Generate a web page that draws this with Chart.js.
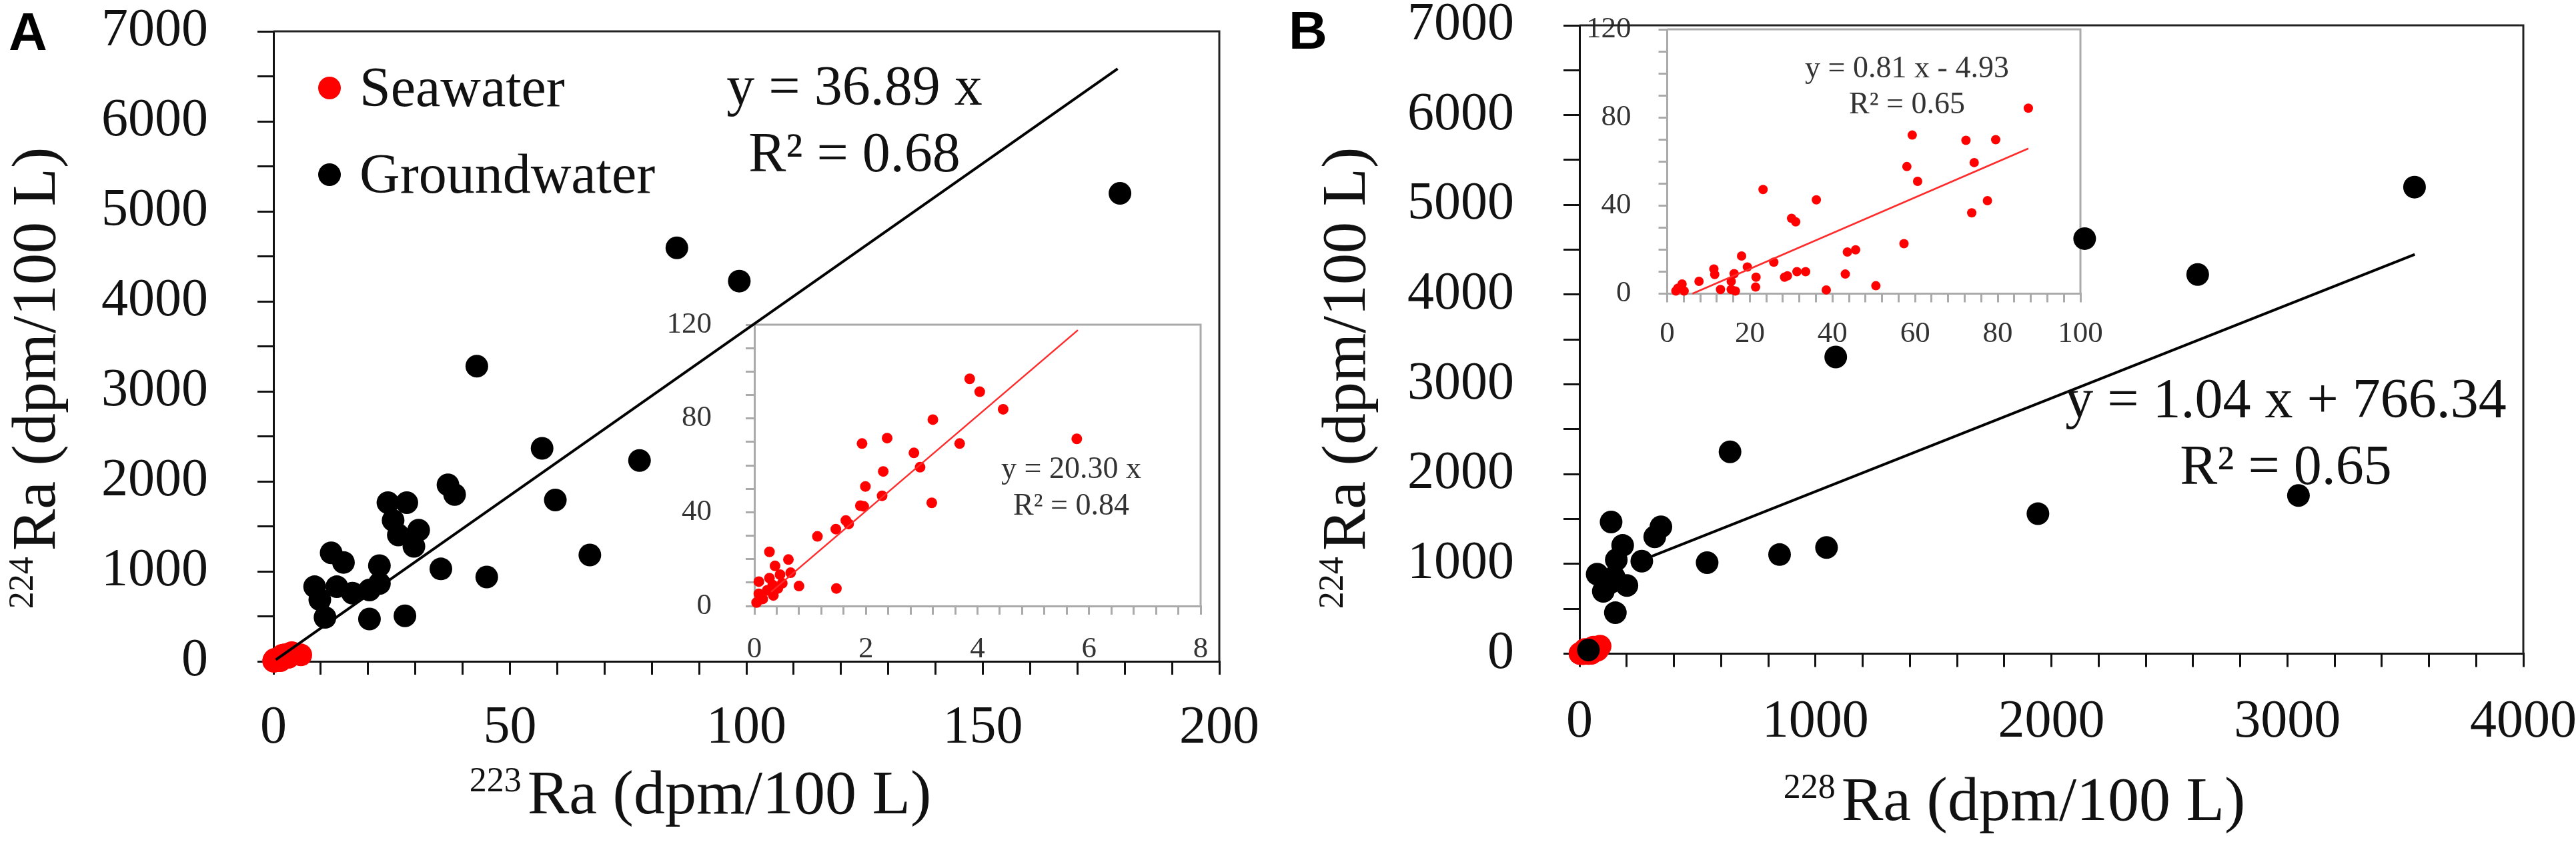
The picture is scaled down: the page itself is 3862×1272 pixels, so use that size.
<!DOCTYPE html>
<html>
<head>
<meta charset="utf-8">
<title>Ra isotopes</title>
<script src="https://cdn.jsdelivr.net/npm/chart.js@4.4.1/dist/chart.umd.min.js"></script>
<style>
  html, body { margin: 0; padding: 0; background: #fff; }
  #page { position: relative; width: 3862px; height: 1272px; overflow: hidden; background: #fff; }
  canvas { position: absolute; }
</style>
</head>
<body>
<div id="page">
  <canvas id="insetA" width="830" height="600" style="left:1000px;top:420px"></canvas>
  <canvas id="insetB" width="800" height="540" style="left:2360px;top:0px"></canvas>
  <canvas id="mainA" width="1920" height="1272" style="left:0px;top:0px"></canvas>
  <canvas id="mainB" width="1942" height="1272" style="left:1920px;top:0px"></canvas>
</div>
<script>
const SERIF = "'Liberation Serif', 'Times New Roman', serif";
const SANS = "'Liberation Sans', Arial, sans-serif";
Chart.defaults.font.family = SERIF;
Chart.defaults.color = '#111';

// --- panel A: 223Ra vs 224Ra (dpm/100 L) ---
const aGroundX = [85.3, 98.5, 43.0, 56.8, 77.4, 36.9, 38.3, 59.6, 24.2, 28.2, 25.3, 30.7, 26.4, 29.7, 12.2,
                  14.8, 22.4, 35.4, 66.9, 45.1, 8.7, 13.4, 16.7, 20.3, 22.4, 9.8, 10.9, 20.3, 27.8, 179.0];
const aGroundY = [4594, 4225, 3280, 2367, 2231, 1961, 1853, 1792, 1763, 1763, 1566, 1458, 1404, 1278, 1206,
                  1099, 1063, 1027, 1182, 937, 829, 829, 758, 793, 865, 686, 488, 470, 506, 5200];
const aSeaX = [3.86, 4.04, 4.46, 3.20, 5.78, 2.38, 1.93, 3.68, 2.86, 2.97, 2.31, 1.99, 2.29, 1.90, 1.96, 3.18,
               1.64, 1.69, 1.46, 1.13, 0.27, 0.61, 0.37, 0.65, 0.46, 0.08, 0.27, 0.33, 0.50, 0.42, 0.80, 1.47,
               0.34, 0.08, 0.04, 0.15, 0.23];
const aSeaY = [96.9, 91.4, 83.9, 79.5, 71.3, 71.6, 69.3, 69.3, 65.3, 59.2, 57.4, 51.0, 47.0, 42.8, 42.5, 44.0,
               36.5, 35.0, 32.8, 29.7, 23.1, 19.8, 17.1, 14.2, 13.4, 10.4, 11.9, 8.9, 9.7, 7.5, 8.5, 7.5,
               4.5, 5.2, 1.5, 3.0, 6.7];
const aFitX = [0.5, 178.5];
const aFitY = [18, 6585];
const aSeaFitX = [0.3, 5.8];
const aSeaFitY = [6, 117.7];
const aEquation = ['y = 36.89 x', 'R\u00b2 = 0.68'];
const aSeaEquation = ['y = 20.30 x', 'R\u00b2 = 0.84'];

// --- panel B: 228Ra vs 224Ra (dpm/100 L) ---
const bGroundX = [38, 75, 101, 130, 134, 147, 152, 156, 183, 201, 264, 319, 345, 541, 638, 848, 1047, 1086,
                  1943, 2141, 2620, 3047, 3539];
const bGroundY = [41, 886, 695, 790, 1467, 854, 456, 1046, 1206, 759, 1030, 1302, 1413, 1014, 2249, 1104, 1183, 3305,
                  1559, 4624, 4224, 1762, 5198];
const bSeaX = [2.1, 2.6, 3.6, 4.1, 7.7, 11.3, 11.5, 12.9, 15.5, 16.5, 15.5, 16.2, 18.0, 19.4, 21.5, 21.4, 23.2,
               25.8, 28.4, 29.1, 31.4, 33.5, 30.1, 31.1, 36.1, 38.5, 43.1, 43.6, 45.6, 50.5, 57.3, 58.0, 59.3,
               60.6, 72.3, 74.3, 73.7, 77.5, 79.5, 87.4];
const bSeaY = [1.2, 2.5, 4.4, 1.2, 5.6, 11.2, 8.7, 1.9, 1.9, 1.2, 5.6, 9.1, 17.1, 12.1, 7.5, 3.0, 47.3,
               14.3, 7.5, 8.1, 10.0, 10.0, 34.2, 32.6, 42.6, 1.7, 8.9, 18.9, 19.9, 3.6, 22.7, 57.7, 72.0,
               51.0, 69.6, 59.5, 36.7, 42.2, 69.9, 84.2];
const bFitX = [305, 3540];
const bFitY = [1083, 4448];
const bSeaFitX = [6.1, 87.4];
const bSeaFitY = [0, 65.9];
const bEquation = ['y = 1.04 x + 766.34', 'R\u00b2 = 0.65'];
const bSeaEquation = ['y = 0.81 x - 4.93', 'R\u00b2 = 0.65'];

// --- series names and tick labels ---
const seriesNames = ['Seawater', 'Groundwater'];
const seriesColors = ['#ff0000', '#000000'];
const mainYLabels = [0, 1000, 2000, 3000, 4000, 5000, 6000, 7000];
const aXLabels = [0, 50, 100, 150, 200];
const bXLabels = [0, 1000, 2000, 3000, 4000];
const insetYLabels = [0, 40, 80, 120];
const aInsetXLabels = [0, 2, 4, 6, 8];
const bInsetXLabels = [0, 20, 40, 60, 80, 100];

const pts = (xs, ys) => xs.map((x, i) => ({ x: x, y: ys[i] }));

function dots(label, xs, ys, color, r, order) {
    return { label: label, data: pts(xs, ys), backgroundColor: color, pointBackgroundColor: color,
             pointRadius: r, pointBorderWidth: 0, showLine: false, clip: false, order: order };
}

function fitLine(xs, ys, color, w) {
    return { data: pts(xs, ys), borderColor: color, borderWidth: w, pointRadius: 0,
             showLine: true, clip: false, order: 0 };
}

// axis with tick marks only, labels on a subset
function axis(o) {
    const horiz = o.pos === 'bottom';
    return {
        type: 'linear', position: o.pos, min: o.min, max: o.max,
        border: { display: true, color: o.color, width: o.lw },
        grid: { drawOnChartArea: false, drawTicks: true, tickLength: o.tl, color: o.color, lineWidth: o.lw },
        ticks: {
            stepSize: o.step, autoSkip: false, maxRotation: 0, padding: o.pad,
            color: o.text, font: { size: o.fs },
            callback: (v) => o.labels.includes(v) ? String(v) : ''
        },
        afterFit: (s) => {
            if (horiz) { s.height = o.size; s.paddingLeft = 0; s.paddingRight = 0; }
            else { s.width = o.size; s.paddingTop = 0; s.paddingBottom = 0; }
        }
    };
}

function supTitle(ctx, sup, text, cx, cy, rotate) {
    const size = 94, supSize = 52, gap = 9, raise = 33;
    ctx.save();
    ctx.fillStyle = '#111';
    ctx.textBaseline = 'alphabetic';
    ctx.textAlign = 'left';
    ctx.font = size + 'px ' + SERIF;
    const wMain = ctx.measureText(text).width;
    ctx.font = supSize + 'px ' + SERIF;
    const wSup = ctx.measureText(sup).width;
    const total = wSup + gap + wMain;
    ctx.translate(cx, cy);
    if (rotate) ctx.rotate(-Math.PI / 2);
    ctx.fillText(sup, -total / 2, -raise);
    ctx.font = size + 'px ' + SERIF;
    ctx.fillText(text, -total / 2 + wSup + gap, 0);
    ctx.restore();
}

function lines(ctx, texts, cx, y0, step, size, color) {
    ctx.save();
    ctx.fillStyle = color;
    ctx.font = size + 'px ' + SERIF;
    ctx.textAlign = 'center';
    ctx.textBaseline = 'alphabetic';
    texts.forEach((t, i) => ctx.fillText(t, cx, y0 + i * step));
    ctx.restore();
}

function letter(ctx, t, x, y) {
    ctx.save();
    ctx.fillStyle = '#000';
    ctx.font = 'bold 80px ' + SANS;
    ctx.textBaseline = 'alphabetic';
    ctx.fillText(t, x, y);
    ctx.restore();
}

// top and right sides of the plot box
function frame(chart, color, lw, fill) {
    const a = chart.chartArea, ctx = chart.ctx;
    ctx.save();
    if (fill) { ctx.fillStyle = '#fff'; ctx.fillRect(a.left, a.top, a.right - a.left, a.bottom - a.top); }
    ctx.strokeStyle = color;
    ctx.lineWidth = lw;
    ctx.beginPath();
    ctx.moveTo(a.left, a.top);
    ctx.lineTo(a.right, a.top);
    ctx.lineTo(a.right, a.bottom);
    ctx.stroke();
    ctx.restore();
}

function baseOptions(padding, xs, ys) {
    return {
        responsive: false, animation: false, devicePixelRatio: 1, events: [],
        layout: { padding: padding },
        plugins: { legend: { display: false }, tooltip: { enabled: false } },
        scales: { x: xs, y: ys }
    };
}

// ---- inset A ----
new Chart(document.getElementById('insetA'), {
    type: 'scatter',
    data: { datasets: [
        dots(seriesNames[0], aSeaX, aSeaY, seriesColors[0], 8, 1),
        fitLine(aSeaFitX, aSeaFitY, '#ff2a2a', 2.5)
    ] },
    options: baseOptions({ left: 0, top: 67, right: 30, bottom: 0 },
        axis({ pos: 'bottom', min: 0, max: 8, step: 0.4, labels: aInsetXLabels, color: '#aaa', lw: 3,
               tl: 13, pad: 25, fs: 45, text: '#333', size: 111 }),
        axis({ pos: 'left', min: 0, max: 120, step: 10, labels: insetYLabels, color: '#aaa', lw: 3,
               tl: 13, pad: 51, fs: 45, text: '#333', size: 131 })),
    plugins: [{
        id: 'decorInsetA',
        beforeDraw(chart) { frame(chart, '#aaa', 3, true); },
        afterDraw(chart) { lines(chart.ctx, aSeaEquation, 606, 297, 55, 46, '#333'); }
    }]
});

// ---- inset B ----
new Chart(document.getElementById('insetB'), {
    type: 'scatter',
    data: { datasets: [
        dots(seriesNames[0], bSeaX, bSeaY, seriesColors[0], 7, 1),
        fitLine(bSeaFitX, bSeaFitY, '#ff2a2a', 2.5)
    ] },
    options: baseOptions({ left: 0, top: 44, right: 41, bottom: 0 },
        axis({ pos: 'bottom', min: 0, max: 100, step: 4, labels: bInsetXLabels, color: '#aaa', lw: 3,
               tl: 13, pad: 21, fs: 45, text: '#333', size: 99.5 }),
        axis({ pos: 'left', min: 0, max: 120, step: 10, labels: insetYLabels, color: '#aaa', lw: 3,
               tl: 13, pad: 41, fs: 45, text: '#333', size: 139.5 })),
    plugins: [{
        id: 'decorInsetB',
        beforeDraw(chart) { frame(chart, '#aaa', 3, true); },
        afterDraw(chart) { lines(chart.ctx, bSeaEquation, 499, 116, 54, 46, '#333'); }
    }]
});

// ---- main A ----
new Chart(document.getElementById('mainA'), {
    type: 'scatter',
    data: { datasets: [
        dots(seriesNames[0], aSeaX, aSeaY, seriesColors[0], 17, 2),
        dots(seriesNames[1], aGroundX, aGroundY, seriesColors[1], 17, 1),
        fitLine(aFitX, aFitY, '#000', 4)
    ] },
    options: baseOptions({ left: 0, top: 47, right: 92, bottom: 0 },
        axis({ pos: 'bottom', min: 0, max: 200, step: 10, labels: aXLabels, color: '#111', lw: 3,
               tl: 20, pad: 33, fs: 80, text: '#111', size: 280 }),
        axis({ pos: 'left', min: 0, max: 7000, step: 500, labels: mainYLabels, color: '#111', lw: 3,
               tl: 24, pad: 74, fs: 80, text: '#111', size: 410 })),
    plugins: [{
        id: 'decorA',
        beforeDatasetsDraw(chart) { frame(chart, '#222', 3, false); },
        afterDraw(chart) {
            const ctx = chart.ctx;
            letter(ctx, 'A', 13, 75);
            supTitle(ctx, '223', 'Ra (dpm/100 L)', 1050, 1220, false);
            supTitle(ctx, '224', 'Ra (dpm/100 L)', 82, 567, true);
            lines(ctx, aEquation, 1281, 157, 100, 84, '#111');
            // legend
            chart.data.datasets.filter(d => seriesNames.includes(d.label)).forEach((d, i) => {
                const cy = 132 + i * 130;
                ctx.save();
                ctx.fillStyle = d.backgroundColor;
                ctx.beginPath();
                ctx.arc(494, cy, 17, 0, Math.PI * 2);
                ctx.fill();
                ctx.fillStyle = '#111';
                ctx.font = '84px ' + SERIF;
                ctx.textBaseline = 'alphabetic';
                ctx.fillText(d.label, 539, cy + 27);
                ctx.restore();
            });
        }
    }]
});

// ---- main B ----
new Chart(document.getElementById('mainB'), {
    type: 'scatter',
    data: { datasets: [
        dots(seriesNames[0], bSeaX, bSeaY, seriesColors[0], 17, 2),
        dots(seriesNames[1], bGroundX, bGroundY, seriesColors[1], 17, 1),
        fitLine(bFitX, bFitY, '#000', 4)
    ] },
    options: baseOptions({ left: 0, top: 38, right: 79, bottom: 0 },
        axis({ pos: 'bottom', min: 0, max: 4000, step: 200, labels: bXLabels, color: '#111', lw: 3,
               tl: 20, pad: 35, fs: 80, text: '#111', size: 291.5 }),
        axis({ pos: 'left', min: 0, max: 7000, step: 500, labels: mainYLabels, color: '#111', lw: 3,
               tl: 24, pad: 74, fs: 80, text: '#111', size: 448 })),
    plugins: [{
        id: 'decorB',
        beforeDatasetsDraw(chart) { frame(chart, '#222', 3, false); },
        afterDraw(chart) {
            const ctx = chart.ctx;
            letter(ctx, 'B', 12, 73);
            supTitle(ctx, '228', 'Ra (dpm/100 L)', 1100, 1230, false);
            supTitle(ctx, '224', 'Ra (dpm/100 L)', 126, 567, true);
            lines(ctx, bEquation, 1507, 626, 100, 84, '#111');
        }
    }]
});
</script>
</body>
</html>
